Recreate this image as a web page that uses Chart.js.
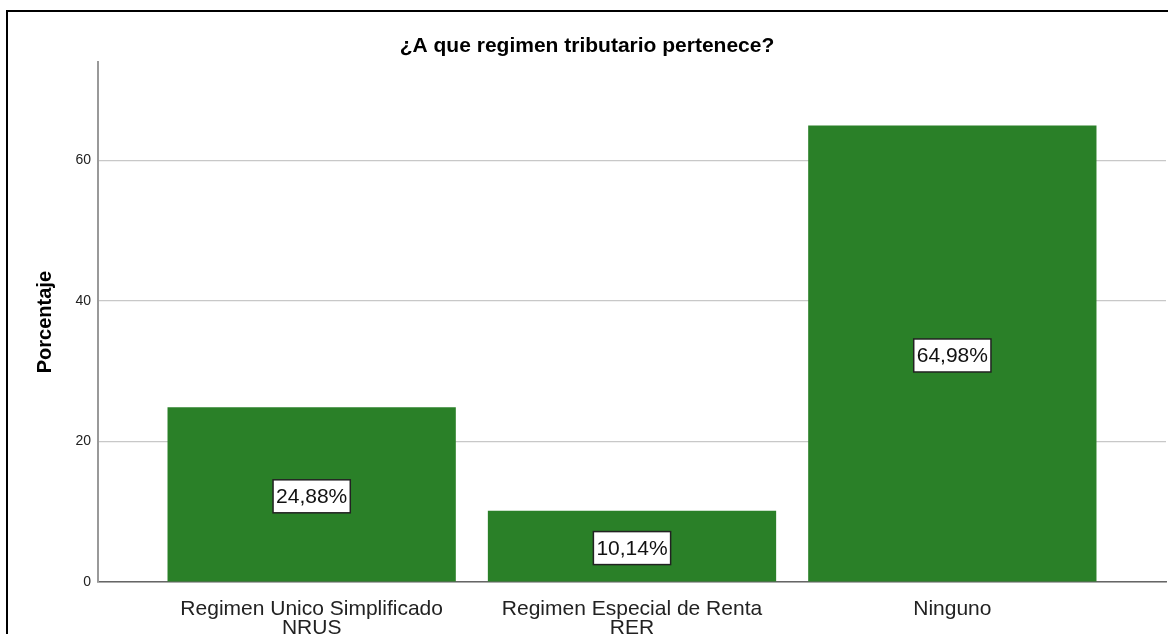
<!DOCTYPE html>
<html>
<head>
<meta charset="utf-8">
<script src="https://cdn.jsdelivr.net/npm/chart.js@4/dist/chart.umd.min.js"></script>
<style>
  html, body { margin: 0; padding: 0; background: #fff; }
  #wrap { position: relative; width: 1168px; height: 634px; overflow: hidden; }
  #frame { position: absolute; left: 6px; top: 10px; width: 1200px; height: 700px;
           border-top: 2px solid #000; border-left: 2px solid #000; pointer-events: none; }
</style>
</head>
<body>
<div id="wrap">
  <canvas id="chart"></canvas>
  <div id="frame"></div>
</div>
<script>
// chart data
const categories = [['Regimen Unico Simplificado', 'NRUS'], ['Regimen Especial de Renta', 'RER'], ['Ninguno']];
const percentages = [24.88, 10.14, 64.98];
const yTicks = [0, 20, 40, 60];

const FONT = '"Liberation Sans", Arial, sans-serif';

// white boxed percentage labels in the middle of each bar
const boxLabels = {
  id: 'boxLabels',
  afterDatasetsDraw(chart) {
    const ctx = chart.ctx;
    const meta = chart.getDatasetMeta(0);
    ctx.save();
    ctx.font = '21px ' + FONT;
    ctx.textAlign = 'center';
    ctx.textBaseline = 'middle';
    meta.data.forEach((bar, i) => {
      const txt = percentages[i].toFixed(2).replace('.', ',') + '%';
      const w = ctx.measureText(txt).width + 6;
      const h = 33;
      const cx = bar.x;
      const cy = (bar.y + bar.base) / 2 + 2;
      ctx.fillStyle = '#fff';
      ctx.fillRect(cx - w / 2, cy - h / 2, w, h);
      ctx.strokeStyle = '#222';
      ctx.lineWidth = 1.5;
      ctx.strokeRect(cx - w / 2, cy - h / 2, w, h);
      ctx.fillStyle = '#111';
      ctx.fillText(txt, cx, cy + 1);
    });
    ctx.restore();
  }
};

new Chart(document.getElementById('chart'), {
  type: 'bar',
  data: {
    datasets: [{
      data: percentages.map((v, i) => ({ x: i, y: v })),
      backgroundColor: '#2a8028',
      barPercentage: 0.9,
      categoryPercentage: 1.0
    }]
  },
  options: {
    responsive: true,
    maintainAspectRatio: false,
    animation: false,
    layout: { padding: { left: 8, right: 2, top: 0, bottom: 0 } },
    plugins: {
      legend: { display: false },
      tooltip: { enabled: false },
      title: {
        display: true,
        text: '¿A que regimen tributario pertenece?',
        color: '#000',
        font: { family: FONT, size: 21, weight: 'bold' },
        padding: { top: 34, bottom: 3 }
      }
    },
    scales: {
      x: {
        type: 'linear',
        offset: false,
        min: -0.667,
        max: 2.667,
        grid: { display: false },
        border: { display: true, color: '#666', width: 1.5 },
        afterBuildTicks: s => { s.ticks = categories.map((c, i) => ({ value: i })); },
        afterFit: s => { s.height = 52; },
        ticks: {
          color: '#222',
          font: { family: FONT, size: 21, lineHeight: 0.9 },
          padding: 10,
          maxRotation: 0,
          autoSkip: false,
          callback: v => categories[v]
        }
      },
      y: {
        min: 0,
        max: 74,
        afterBuildTicks: s => { s.ticks = yTicks.map(v => ({ value: v })); },
        afterFit: s => { s.width = 90; },
        grid: { color: '#c8c8c8', lineWidth: 1.2, drawTicks: false },
        border: { display: true, color: '#999', width: 2 },
        ticks: {
          color: '#222',
          font: { family: FONT, size: 14 },
          padding: 7
        },
        title: {
          display: true,
          text: 'Porcentaje',
          color: '#000',
          font: { family: FONT, size: 20, weight: 'bold' },
          padding: { top: 25, bottom: 0 }
        }
      }
    }
  },
  plugins: [boxLabels]
});
</script>
</body>
</html>
